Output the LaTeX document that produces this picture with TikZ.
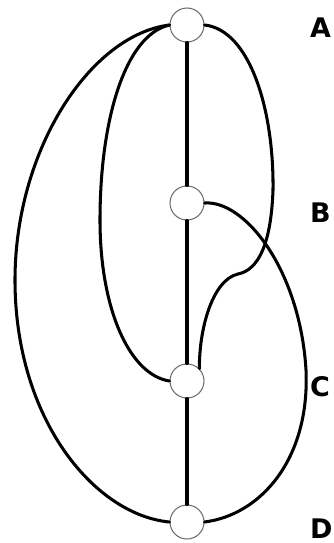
\documentclass[tikz,border=0pt]{standalone}
\usepackage{fontspec}
\newfontfamily\lblfont{DejaVu Sans}
\usetikzlibrary{positioning}
\definecolor{ringgray}{RGB}{110,110,110}

\begin{document}
\begin{tikzpicture}[
    x=0.03cm, y=-0.03cm,
    vertex/.style={
      circle, draw=ringgray, line width=0.9pt, fill=white,
      minimum size=1.02cm, inner sep=0pt
    },
    tag/.style={anchor=base west, inner sep=0pt,
      font=\lblfont\bfseries\fontsize{23}{23}\selectfont},
    edge/.style={line width=2.6pt, line cap=round}
  ]
    \useasboundingbox (0,0) rectangle (333,543);

    \node[vertex] (A) at (187,25) {};
    \node[vertex] (B) at (187,203) {};
    \node[vertex] (C) at (187,381) {};
    \node[vertex] (D) at (187,522) {};

    \node[tag] (labA) at (310,38) {A};
    \node[tag] (labB) at (310,222) {B};
    \node[tag] (labC) at (310,396) {C};
    \node[tag] (labD) at (310,538) {D};

    % spine
    \draw[edge] (A) -- (B);
    \draw[edge] (B) -- (C);
    \draw[edge] (C) -- (D);

    % left arcs
    \draw[edge] (A.west) .. controls (90,35) and (15,150) .. (15,280)
      .. controls (15,420) and (95,515) .. (D.west);
    \draw[edge] (A.west) .. controls (125,35) and (100,120) .. (100,220)
      .. controls (100,310) and (130,375) .. (C.west);

    % right arcs
    \draw[edge] (A.east) .. controls (250,30) and (274,110) .. (273,190)
      .. controls (271,245) and (258,270) .. (238,274)
      .. controls (212,280) and (199,330) .. (C.north east);
    \draw[edge] (B.east) .. controls (245,200) and (300,270) .. (306,370)
      .. controls (310,460) and (260,515) .. (D.east);
\end{tikzpicture}
\end{document}
